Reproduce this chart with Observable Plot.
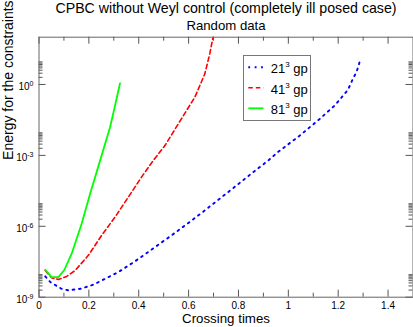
<!DOCTYPE html>
<html><head><meta charset="utf-8">
<script src="https://cdn.jsdelivr.net/npm/d3@7"></script>
<script src="https://cdn.jsdelivr.net/npm/@observablehq/plot@0.6"></script>
<style>
body{margin:0;background:#fff;}
#wrap{position:relative;width:413px;height:327px;font-family:"Liberation Sans",Arial,sans-serif;}
#legend{position:absolute;left:243px;top:55px;}
</style>
</head><body>
<div id="wrap"></div>
<script>
// ---- data ----
const title = "CPBC without Weyl control (completely ill posed case)";
const subtitle = "Random data";
const xLabel = "Crossing times";
const yLabel = "Energy for the constraints";

const seriesBase = ["21", "41", "81"];
const seriesSuffix = " gp";
const seriesColors = ["#0000ff", "#ff0000", "#00ff00"];

const x21 = [0.025,0.045,0.089,0.118,0.169,0.218,0.265,0.318,0.385,0.451,0.531,0.598,0.665,0.729,0.793,0.855,0.919,0.959,1.046,1.126,1.186,1.239,1.259,1.273,1.282,1.289];
const y21 = [7.6e-9,4.4e-9,2.3e-9,1.95e-9,2.3e-9,3.4e-9,6.0e-9,1.15e-8,3.3e-8,1.02e-7,4.1e-7,1.35e-6,4.7e-6,1.6e-5,5.4e-5,1.8e-4,6.0e-4,1.4e-3,6.9e-3,3.5e-2,0.129,0.59,1.74,3.3,6.3,12.3];

const x41 = [0.025,0.051,0.078,0.111,0.145,0.198,0.251,0.305,0.358,0.411,0.458,0.505,0.571,0.625,0.665,0.685,0.698,0.705];
const y41 = [1.35e-8,6.6e-9,5.6e-9,7.6e-9,1.35e-8,5.9e-8,4.1e-7,2.45e-6,1.7e-5,1.2e-4,6.0e-4,2.6e-3,3.5e-2,0.29,2.8,20,100,300];

const x81 = [0.025,0.051,0.078,0.102,0.131,0.171,0.205,0.245,0.285,0.305,0.325];
const y81 = [1.45e-8,7.1e-9,7.1e-9,1.45e-8,6.9e-8,1.29e-6,2.4e-5,6.0e-4,1.55e-2,0.129,1.12];

const xMajor = [0, 0.2, 0.4, 0.6, 0.8, 1, 1.2, 1.4];
const xMinor = [0.1, 0.3, 0.5, 0.7, 0.9, 1.1, 1.3];
const yMajor = [1e-9, 1e-6, 1e-3, 1];
const yExponents = ["-9", "-6", "-3", "0"];
const yMinorFactors = [2, 3, 4, 5, 6, 7, 8, 9];

// ---- build ----
const toRows = (xs, ys, s) => xs.map((x, i) => ({x, y: ys[i], s}));
const d21 = toRows(x21, y21, 0), d41 = toRows(x41, y41, 1), d81 = toRows(x81, y81, 2);
const yMinor = yMajor.flatMap(m => yMinorFactors.map(f => m * f));

const W = 413, H = 327, mL = 38.5, mR = 0.5, mT = 36.7, mB = 30.3;
const fw = W - mL - mR, fh = H - mT - mB;
const tickCol = "#555";
const dashes = ["1.8,4.6", "4.5,3", null];
const widths = [1.9, 1.6, 1.8];

const chart = Plot.plot({
  width: W, height: H,
  marginLeft: mL, marginRight: mR, marginTop: mT, marginBottom: mB,
  style: {fontFamily: '"Liberation Sans", Arial, sans-serif', background: "#fff", color: "#000"},
  x: {domain: [0, 1.5], axis: null},
  y: {type: "log", domain: [1e-9, 100], axis: null},
  marks: [
    Plot.line(d21, {x: "x", y: "y", stroke: seriesColors[0], strokeWidth: widths[0], strokeDasharray: dashes[0], clip: true}),
    Plot.line(d41, {x: "x", y: "y", stroke: seriesColors[1], strokeWidth: widths[1], strokeDasharray: dashes[1], clip: true}),
    Plot.line(d81, {x: "x", y: "y", stroke: seriesColors[2], strokeWidth: widths[2], clip: true}),
    // inward ticks, mirrored
    Plot.tickX(xMajor, {x: d => d, insetTop: fh - 7, stroke: tickCol}),
    Plot.tickX(xMajor, {x: d => d, insetBottom: fh - 7, stroke: tickCol}),
    Plot.tickX(xMinor, {x: d => d, insetTop: fh - 4, stroke: tickCol}),
    Plot.tickX(xMinor, {x: d => d, insetBottom: fh - 4, stroke: tickCol}),
    Plot.tickY(yMajor, {y: d => d, insetRight: fw - 7, stroke: tickCol}),
    Plot.tickY(yMajor, {y: d => d, insetLeft: fw - 7, stroke: tickCol}),
    Plot.tickY(yMinor, {y: d => d, insetRight: fw - 4, stroke: tickCol}),
    Plot.tickY(yMinor, {y: d => d, insetLeft: fw - 4, stroke: tickCol}),
    Plot.frame({stroke: "#666"}),
    Plot.axisX(xMajor, {tickSize: 0, tickPadding: 5, fontSize: 10, label: null, tickFormat: d => String(d)}),
    Plot.axisY(yMajor, {tickSize: 0, tickPadding: 5.5, fontSize: 10, label: null, dy: 2.5, tickFormat: d => "10"}),
    Plot.text([title], {frameAnchor: "top", dy: -28.5, fontSize: 14.2, lineAnchor: "middle"}),
    Plot.text([subtitle], {frameAnchor: "top", dy: -11.6, fontSize: 13.2, lineAnchor: "middle"}),
    Plot.text([xLabel], {frameAnchor: "bottom", dy: 21.4, fontSize: 13.3, lineAnchor: "middle"}),
    Plot.text([yLabel], {frameAnchor: "left", dx: -30.6, dy: -7.3, rotate: -90, fontSize: 14, lineAnchor: "middle"})
  ]
});

// add exponents to y tick labels as real superscript text
const yLabels = chart.querySelectorAll('g[aria-label="y-axis tick label"] text');
yLabels.forEach((t, i) => {
  const sup = document.createElementNS("http://www.w3.org/2000/svg", "tspan");
  sup.setAttribute("dy", "-4");
  sup.setAttribute("font-size", "7");
  sup.textContent = yExponents[i];
  t.appendChild(sup);
});

document.getElementById("wrap").appendChild(chart);

// legend
const ns = "http://www.w3.org/2000/svg";
const leg = document.createElementNS(ns, "svg");
leg.setAttribute("id", "legend");
leg.setAttribute("width", 69);
leg.setAttribute("height", 67);
const box = document.createElementNS(ns, "rect");
box.setAttribute("x", 0.5); box.setAttribute("y", 0.5);
box.setAttribute("width", 67); box.setAttribute("height", 65);
box.setAttribute("fill", "#fff"); box.setAttribute("stroke", "#777");
leg.appendChild(box);
const rowY = [12.3, 32.7, 53.3];
seriesBase.forEach((b, i) => {
  const ln = document.createElementNS(ns, "line");
  ln.setAttribute("x1", 5.3); ln.setAttribute("x2", 20.5);
  ln.setAttribute("y1", rowY[i]); ln.setAttribute("y2", rowY[i]);
  ln.setAttribute("stroke", seriesColors[i]);
  ln.setAttribute("stroke-width", widths[i]);
  if (dashes[i]) ln.setAttribute("stroke-dasharray", dashes[i]);
  leg.appendChild(ln);
  const tx = document.createElementNS(ns, "text");
  tx.setAttribute("x", 27.7); tx.setAttribute("y", rowY[i] + 6);
  tx.setAttribute("font-size", 13);
  tx.setAttribute("font-family", '"Liberation Sans", Arial, sans-serif');
  const a = document.createElementNS(ns, "tspan"); a.textContent = b;
  const s = document.createElementNS(ns, "tspan"); s.textContent = "3";
  s.setAttribute("dy", -6); s.setAttribute("font-size", 8);
  const c = document.createElementNS(ns, "tspan"); c.textContent = seriesSuffix;
  c.setAttribute("dy", 6);
  tx.appendChild(a); tx.appendChild(s); tx.appendChild(c);
  leg.appendChild(tx);
});
document.getElementById("wrap").appendChild(leg);
</script>
</body></html>
